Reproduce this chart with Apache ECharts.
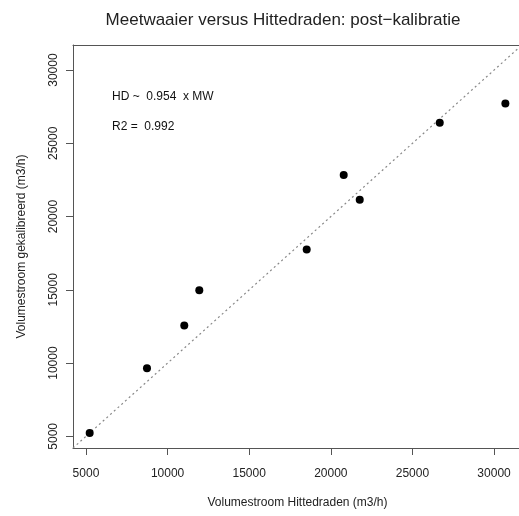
<!DOCTYPE html>
<html>
<head>
<meta charset="utf-8">
<script src="https://cdn.jsdelivr.net/npm/echarts@6/dist/echarts.min.js"></script>
<style>
  html, body { margin: 0; padding: 0; background: #fff; }
  #chart { width: 519px; height: 516px; }
</style>
</head>
<body>
<div id="chart"></div>
<script>
// Volumestroom per meting (m3/h): hittedraden vs. gekalibreerde meetwaaier
const hittedraden = [5227, 8738, 11023, 11943, 18523, 20790, 21771, 26673, 30693];
const gekalibreerd = [5225, 9641, 12575, 14965, 17762, 22833, 21154, 26409, 27725];
const tickValues = [5000, 10000, 15000, 20000, 25000, 30000];
const fitText = 'HD ~  0.954  x MW';
const r2Text = 'R2 =  0.992';

// Shared axis limits: full range of both variables, padded 4% on each side
const allVals = hittedraden.concat(gekalibreerd);
const lo0 = Math.min(...allVals), hi0 = Math.max(...allVals);
const pad = 0.04 * (hi0 - lo0);
const axLo = lo0 - pad, axHi = hi0 + pad;

const points = hittedraden.map((x, i) => [x, gekalibreerd[i]]);
const FONT = '"Liberation Sans", Arial, sans-serif';
const FRAME = '#555';

function axisCfg(name, nameGap, isY) {
  return {
    type: 'value',
    min: axLo,
    max: axHi,
    name: name,
    nameLocation: 'middle',
    nameGap: nameGap,
    nameTextStyle: { fontFamily: FONT, fontSize: 12, color: '#222' },
    splitLine: { show: false },
    axisLine: { show: true, onZero: false, lineStyle: { color: FRAME, width: 1 } },
    axisTick: {
      show: true, inside: false, length: 7,
      customValues: tickValues,
      lineStyle: { color: FRAME, width: 1 }
    },
    axisLabel: {
      show: true,
      customValues: tickValues,
      fontFamily: FONT, fontSize: 12, color: '#222',
      margin: isY ? 13 : 20,
      rotate: isY ? 90 : 0,
      hideOverlap: false,
      formatter: v => String(v)
    }
  };
}

// Top edge of the plot frame: a bare axis line with no ticks or labels
const topFrame = {
  type: 'value', position: 'top', min: axLo, max: axHi,
  axisLine: { show: true, onZero: false, lineStyle: { color: FRAME, width: 1 } },
  axisTick: { show: false }, axisLabel: { show: false }, splitLine: { show: false }
};

const chart = echarts.init(document.getElementById('chart'), null, { renderer: 'canvas' });
chart.setOption({
  animation: false,
  backgroundColor: '#fff',
  title: {
    text: 'Meetwaaier versus Hittedraden: post\u2212kalibratie',
    left: 278, top: 7, textAlign: 'center',
    textStyle: { fontFamily: FONT, fontSize: 17, fontWeight: 'normal', color: '#222' }
  },
  grid: {
    left: 73, top: 45, width: 449, height: 403,
    outerBoundsMode: 'none',
    containLabel: false,
    show: false
  },
  xAxis: [axisCfg('Volumestroom Hittedraden (m3/h)', 49, false), topFrame],
  yAxis: axisCfg('Volumestroom gekalibreerd (m3/h)', 45, true),
  series: [
    {
      // 1:1 reference line
      type: 'line',
      data: [[axLo, axLo], [axHi, axHi]],
      showSymbol: false,
      silent: true,
      lineStyle: { color: '#888', width: 1.2, type: [2, 3] },
      z: 1
    },
    {
      type: 'scatter',
      data: points,
      symbol: 'circle',
      symbolSize: 8,
      itemStyle: { color: '#000', opacity: 1 },
      z: 2
    }
  ],
  graphic: [
    { type: 'text', left: 112, top: 91, style: { text: fitText, font: '12px ' + FONT, fill: '#111' } },
    { type: 'text', left: 112, top: 121, style: { text: r2Text, font: '12px ' + FONT, fill: '#111' } }
  ]
});
</script>
</body>
</html>
